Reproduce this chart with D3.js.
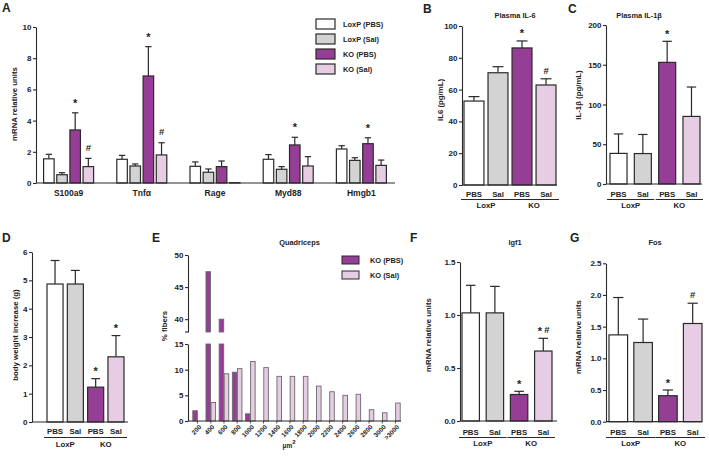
<!DOCTYPE html>
<html><head><meta charset="utf-8">
<script src="https://cdn.jsdelivr.net/npm/d3@7"></script>
<style>
body{margin:0;background:#fff}
svg{display:block}
text{font-family:"Liberation Sans",Arial,sans-serif;font-weight:bold;fill:#222}
</style>
</head><body>
<svg id="c" width="709" height="458"></svg>
<script>
// ---------------- DATA ----------------
const seriesNames = ["LoxP (PBS)", "LoxP (Sal)", "KO (PBS)", "KO (Sal)"];
const treatments = ["PBS", "Sal", "PBS", "Sal"];
const genotypes = ["LoxP", "KO"];

// Panel A: mRNA relative units
const genesA = ["S100a9", "Tnfα", "Rage", "Myd88", "Hmgb1"];
const aLoxpPbs = [1.55, 1.52, 1.07, 1.52, 2.18];
const aLoxpPbsErr = [0.29, 0.25, 0.28, 0.30, 0.21];
const aLoxpSal = [0.53, 1.09, 0.69, 0.88, 1.45];
const aLoxpSalErr = [0.13, 0.13, 0.21, 0.17, 0.17];
const aKoPbs = [3.40, 6.86, 1.05, 2.44, 2.52];
const aKoPbsErr = [1.10, 1.88, 0.36, 0.49, 0.38];
const aKoSal = [1.05, 1.80, 0.02, 1.09, 1.13];
const aKoSalErr = [0.53, 0.78, 0, 0.60, 0.34];
const aKoPbsMarks = ["*", "*", "", "*", "*"];
const aKoSalMarks = ["#", "#", "", "", ""];
const aTicks = [0, 2, 4, 6, 8, 10];

// Panel B: Plasma IL-6 (pg/mL)
const bMeans = [52.8, 70.6, 86.2, 62.9];
const bErrs = [2.8, 3.8, 4.4, 3.9];
const bMarks = ["", "", "*", "#"];
const bTicks = [0, 20, 40, 60, 80, 100];

// Panel C: Plasma IL-1β (pg/mL)
const cMeans = [38.5, 38.3, 153, 85];
const cErrs = [24.5, 24, 26.5, 37];
const cMarks = ["", "", "*", ""];
const cTicks = [0, 50, 100, 150, 200];

// Panel D: body weight increase (g)
const dMeans = [4.87, 4.87, 1.23, 2.30];
const dErrs = [0.83, 0.48, 0.30, 0.75];
const dMarks = ["", "", "*", "*"];
const dTicks = [0, 1, 2, 3, 4, 5, 6];

// Panel E: Quadriceps fiber size distribution (% fibers)
const eBins = ["200", "400", "600", "800", "1000", "1200", "1400", "1600", "1800", "2000", "2200", "2400", "2600", "2800", "3000", ">3000"];
const eKoPbs = [2.0, 47.4, 40.0, 9.5, 1.4, 0, 0, 0, 0, 0, 0, 0, 0, 0, 0, 0];
const eKoSal = [0, 3.6, 9.2, 10.2, 11.6, 10.4, 8.7, 8.7, 8.7, 6.8, 5.7, 5.0, 5.2, 2.2, 1.6, 3.5];
const eSeries = ["KO (PBS)", "KO (Sal)"];
const eTicksLow = [0, 5, 10, 15];
const eTicksHigh = [40, 45, 50];

// Panel F: Igf1 mRNA
const fMeans = [1.02, 1.02, 0.25, 0.66];
const fErrs = [0.26, 0.25, 0.03, 0.12];
const fMarks = ["", "", "*", "*#"];
const fTicks = [0, 0.5, 1.0, 1.5];

// Panel G: Fos mRNA
const gMeans = [1.37, 1.25, 0.41, 1.55];
const gErrs = [0.59, 0.37, 0.09, 0.32];
const gMarks = ["", "", "*", "#"];
const gTicks = [0, 0.5, 1.0, 1.5, 2.0, 2.5];

// ---------------- STYLE ----------------
const fills = ["#ffffff", "#d3d3d3", "#963d95", "#e7cde3"];
const ink = "#2a2a2a";
const svg = d3.select("#c");

function txt(g, x, y, s, size, anchor) {
  return g.append("text").attr("x", x).attr("y", y).attr("font-size", size)
    .attr("text-anchor", anchor || "start").text(s);
}
function yAxis(scale, ticks, fmt, x) {
  const ax = d3.axisLeft(scale).tickValues(ticks).tickSize(3).tickSizeOuter(0).tickPadding(1.5);
  if (fmt) ax.tickFormat(fmt);
  const gg = svg.append("g").attr("transform", `translate(${x},0)`).call(ax);
  gg.selectAll("path,line").attr("stroke", ink).attr("stroke-width", 1.1);
  gg.selectAll("text").attr("font-size", 8).attr("fill", ink);
  return gg;
}
function vlabel(x, y, s, size) {
  svg.append("text").attr("transform", `translate(${x},${y}) rotate(-90)`)
    .attr("text-anchor", "middle").attr("font-size", size || 7.5).text(s);
}
function marks(cx, yErr, m, gap) {
  const chars = [...m];
  chars.forEach((ch, i) => {
    const off = chars.length > 1 ? (i - (chars.length - 1) / 2) * 7 : 0;
    if (ch === "*") txt(svg, cx + off, yErr - gap, "*", 11, "middle");
    else txt(svg, cx + off, yErr - gap - 1.5, "#", 9.5, "middle");
  });
}
function barWithErr(x, w, y, mean, err, fill, capFrac) {
  if (err > 0) {
    const cx = x + w / 2, cw = w * capFrac;
    svg.append("line").attr("x1", cx).attr("x2", cx).attr("y1", y(mean)).attr("y2", y(mean + err))
      .attr("stroke", ink).attr("stroke-width", 1.2);
    svg.append("line").attr("x1", cx - cw / 2).attr("x2", cx + cw / 2).attr("y1", y(mean + err)).attr("y2", y(mean + err))
      .attr("stroke", ink).attr("stroke-width", 1.2);
  }
  svg.append("rect").attr("x", x).attr("y", y(mean)).attr("width", w)
    .attr("height", Math.max(0, y(0) - y(mean))).attr("fill", fill)
    .attr("stroke", ink).attr("stroke-width", 1.2);
}

// ---------------- PANEL A ----------------
(function () {
  const y = d3.scaleLinear().domain([0, 10]).range([183, 27]);
  const x = d3.scaleBand().domain(genesA).range([32, 398]);
  const sub = d3.scaleBand().domain(seriesNames).range([-25, 25]).paddingInner(0.2);
  const means = [aLoxpPbs, aLoxpSal, aKoPbs, aKoSal];
  const errs = [aLoxpPbsErr, aLoxpSalErr, aKoPbsErr, aKoSalErr];
  const mk = [null, null, aKoPbsMarks, aKoSalMarks];
  genesA.forEach((g, gi) => {
    const c = x(g) + x.bandwidth() / 2;
    seriesNames.forEach((s, si) => {
      const bx = c + sub(s);
      barWithErr(bx, sub.bandwidth(), y, means[si][gi], errs[si][gi], fills[si], 0.6);
      if (mk[si] && mk[si][gi]) marks(bx + sub.bandwidth() / 2, y(means[si][gi] + errs[si][gi]), mk[si][gi], 6);
    });
    txt(svg, c, 196, g, 8.5, "middle");
  });
  svg.append("line").attr("x1", 36).attr("x2", 395).attr("y1", y(0)).attr("y2", y(0)).attr("stroke", ink).attr("stroke-width", 1.2);
  yAxis(y, aTicks, d3.format("d"), 36);
  vlabel(17, 104, "mRNA relative units", 7.8);
  txt(svg, 2, 12, "A", 12);
  // legend
  seriesNames.forEach((s, i) => {
    const ly = 19 + i * 15;
    svg.append("rect").attr("x", 316).attr("y", ly).attr("width", 19).attr("height", 10)
      .attr("fill", fills[i]).attr("stroke", ink).attr("stroke-width", 1.2);
    txt(svg, 343, ly + 8, s, 7.4);
  });
})();

// ---------------- 4-bar panels ----------------
function panel4(o) {
  const y = d3.scaleLinear().domain([0, o.yMax]).range([o.y0, o.y1]);
  const x = d3.scaleBand().domain(seriesNames).range(o.barRange).paddingInner(o.padIn);
  const bw = x.bandwidth();
  seriesNames.forEach((s, i) => {
    barWithErr(x(s), bw, y, o.means[i], o.errs[i], fills[i], 0.55);
    if (o.marks[i]) marks(x(s) + bw / 2, y(o.means[i] + o.errs[i]), o.marks[i], 3.5);
    txt(svg, x(s) + bw / 2, o.labY, treatments[i], 7.8, "middle");
  });
  svg.append("line").attr("x1", o.axisX).attr("x2", o.axisEnd).attr("y1", y(0)).attr("y2", y(0)).attr("stroke", ink).attr("stroke-width", 1.2);
  yAxis(y, o.ticks, o.fmt, o.axisX);
  genotypes.forEach((gname, gi) => {
    const a = x(seriesNames[gi * 2]) - 3, b = x(seriesNames[gi * 2 + 1]) + bw + 3;
    svg.append("line").attr("x1", a).attr("x2", b).attr("y1", o.lineY).attr("y2", o.lineY).attr("stroke", ink).attr("stroke-width", 1);
    txt(svg, (a + b) / 2, o.grpY, gname, 7.8, "middle");
  });
  vlabel(o.ylabX, o.ylabY, o.ylab, 7.8);
  if (o.title) txt(svg, o.titleX, o.titleY, o.title, 7.4, "middle");
  txt(svg, o.letterX, o.letterY, o.letter, 12);
}

panel4({ letter: "B", letterX: 423, letterY: 13, title: "Plasma IL-6", titleX: 515, titleY: 17.5,
  yMax: 100, y0: 185, y1: 26, ticks: bTicks, fmt: d3.format("d"), axisX: 462, axisEnd: 557,
  barRange: [464, 556], padIn: 0.17, means: bMeans, errs: bErrs, marks: bMarks,
  labY: 197, lineY: 199.5, grpY: 208, ylab: "IL6 (pg/mL)", ylabX: 443, ylabY: 100 });

panel4({ letter: "C", letterX: 568, letterY: 13, title: "Plasma IL-1β", titleX: 639, titleY: 17.5,
  yMax: 200, y0: 184, y1: 25, ticks: cTicks, fmt: d3.format("d"), axisX: 606, axisEnd: 702,
  barRange: [610, 700], padIn: 0.3, means: cMeans, errs: cErrs, marks: cMarks,
  labY: 197, lineY: 199.5, grpY: 208, ylab: "IL-1β (pg/mL)", ylabX: 581, ylabY: 95 });

panel4({ letter: "D", letterX: 2, letterY: 242, title: null,
  yMax: 6, y0: 422, y1: 252, ticks: dTicks, fmt: d3.format("d"), axisX: 32, axisEnd: 128,
  barRange: [47, 124], padIn: 0.21, means: dMeans, errs: dErrs, marks: dMarks,
  labY: 434, lineY: 437.5, grpY: 447, ylab: "body weight increase (g)", ylabX: 18, ylabY: 335 });

panel4({ letter: "F", letterX: 410, letterY: 242, title: "Igf1", titleX: 515, titleY: 245,
  yMax: 1.5, y0: 421, y1: 262, ticks: fTicks, fmt: d3.format(".1f"), axisX: 460, axisEnd: 557,
  barRange: [462, 552], padIn: 0.28, means: fMeans, errs: fErrs, marks: fMarks,
  labY: 435, lineY: 437.5, grpY: 446, ylab: "mRNA relative units", ylabX: 431, ylabY: 335 });

panel4({ letter: "G", letterX: 570, letterY: 242, title: "Fos", titleX: 655, titleY: 245,
  yMax: 2.5, y0: 421.7, y1: 263.3, ticks: gTicks, fmt: d3.format(".1f"), axisX: 606, axisEnd: 702,
  barRange: [609, 702], padIn: 0.25, means: gMeans, errs: gErrs, marks: gMarks,
  labY: 435, lineY: 437.5, grpY: 446, ylab: "mRNA relative units", ylabX: 581, ylabY: 337 });

// ---------------- PANEL E ----------------
(function () {
  const yLow = d3.scaleLinear().domain([0, 15]).range([421, 344]);
  const yHigh = d3.scaleLinear().domain([38, 50]).range([332, 255]);
  const x = d3.scaleBand().domain(eBins).range([191, 402]);
  const sub = d3.scaleBand().domain(eSeries).range([-4.8, 4.8]).paddingInner(0.1);
  const efill = [fills[2], fills[3]];
  const vals = [eKoPbs, eKoSal];
  eBins.forEach((b, bi) => {
    const c = x(b) + x.bandwidth() / 2;
    vals.forEach((arr, si) => {
      const v = arr[bi];
      if (v <= 0) return;
      const bx = c + sub(eSeries[si]), w = sub.bandwidth();
      const lowTop = yLow(Math.min(v, 15));
      svg.append("rect").attr("x", bx).attr("y", lowTop).attr("width", w).attr("height", yLow(0) - lowTop)
        .attr("fill", efill[si]).attr("stroke", "#6a6a6a").attr("stroke-width", 0.9);
      if (v > 38) {
        svg.append("rect").attr("x", bx).attr("y", yHigh(v)).attr("width", w).attr("height", yHigh(38) - yHigh(v))
          .attr("fill", efill[si]).attr("stroke", "#6a6a6a").attr("stroke-width", 0.9);
      }
    });
    svg.append("line").attr("x1", c).attr("x2", c).attr("y1", 421).attr("y2", 423.5).attr("stroke", ink).attr("stroke-width", 0.8);
    svg.append("text").attr("transform", `translate(${c + 2.5},${426}) rotate(-45)`)
      .attr("text-anchor", "end").attr("dy", "0.35em").attr("font-size", 6.4).text(b);
  });
  svg.append("line").attr("x1", 188).attr("x2", 401).attr("y1", 421).attr("y2", 421).attr("stroke", ink).attr("stroke-width", 1.2);
  yAxis(yLow, eTicksLow, d3.format("d"), 188);
  yAxis(yHigh, eTicksHigh, d3.format("d"), 188);
  svg.append("line").attr("x1", 185).attr("x2", 188).attr("y1", 332).attr("y2", 332).attr("stroke", ink).attr("stroke-width", 1.1);
  vlabel(167, 326, "% fibers", 7.8);
  txt(svg, 299.5, 245, "Quadriceps", 7.4, "middle");
  txt(svg, 152, 242, "E", 12);
  const xl = svg.append("text").attr("x", 289).attr("y", 448).attr("font-size", 6.5).attr("text-anchor", "middle");
  xl.append("tspan").text("μm");
  xl.append("tspan").attr("dy", -4).attr("font-size", 6).text("2");
  eSeries.forEach((s, i) => {
    const ly = 256 + i * 15;
    svg.append("rect").attr("x", 342).attr("y", ly).attr("width", 17).attr("height", 8)
      .attr("fill", efill[i]).attr("stroke", ink).attr("stroke-width", 1);
    txt(svg, 370, ly + 7, s, 7.4);
  });
})();
</script>
</body></html>
